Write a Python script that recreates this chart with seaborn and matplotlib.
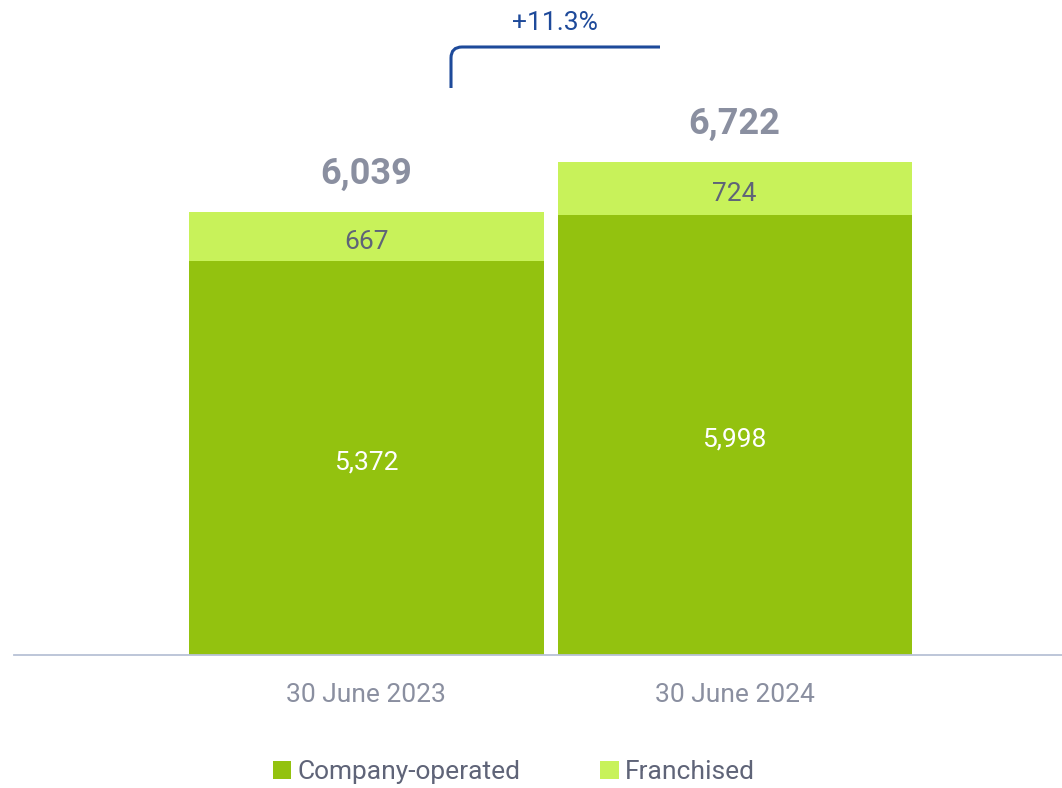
import matplotlib
matplotlib.use("Agg")
import matplotlib.pyplot as plt
import seaborn as sns
import pandas as pd
from matplotlib.patches import Patch, PathPatch
from matplotlib.path import Path
from matplotlib.transforms import Affine2D

categories = ["30 June 2023", "30 June 2024"]
company_operated = [5372, 5998]
franchised = [667, 724]
growth_label = "+11.3%"

DARK = "#93C20F"
LIGHT = "#C8F25A"
GRAY_TOTAL = "#8A8FA0"
GRAY_TEXT = "#5F6478"
BLUE = "#1E4A9A"

sns.set_theme(style="white")
plt.rcParams["font.family"] = ["Roboto", "DejaVu Sans"]

W, H = 1062, 788
fig = plt.figure(figsize=(W / 100, H / 100), dpi=100)
ax = fig.add_axes([14 / W, 1 - 655 / H, (W - 14) / W, 655 / H])

totals = [c + f for c, f in zip(company_operated, franchised)]
df = pd.DataFrame({"cat": categories, "company": company_operated,
                   "franchised": franchised, "total": totals})

sns.barplot(data=df, x="cat", y="total", color=LIGHT, width=0.962,
            saturation=1, ax=ax, linewidth=0)
sns.barplot(data=df, x="cat", y="company", color=DARK, width=0.962,
            saturation=1, ax=ax, linewidth=0)

ax.set_xlim(-0.9565, 1.8886)
ax.set_ylim(0, 8930)
ax.set_xlabel("")
ax.set_ylabel("")
ax.set_yticks([])
for s in ["top", "left", "right"]:
    ax.spines[s].set_visible(False)
ax.spines["bottom"].set_color("#B8C2D6")
ax.spines["bottom"].set_linewidth(1.3)
ax.tick_params(axis="x", length=0, pad=20, labelsize=19, labelcolor=GRAY_TOTAL)

for i, (c, f, t) in enumerate(zip(company_operated, franchised, totals)):
    ax.annotate(f"{c:,}", xy=(i, c / 2), xytext=(0, -3), textcoords="offset points",
                ha="center", va="center", color="white", fontsize=19)
    ax.annotate(f"{f:,}", xy=(i, c + f / 2), xytext=(0, -4), textcoords="offset points",
                ha="center", va="center", color=GRAY_TEXT, fontsize=19)
    ax.annotate(f"{t:,}", xy=(i, t), xytext=(0, 27.5), textcoords="offset points",
                ha="center", va="center", color=GRAY_TOTAL, fontsize=26, fontweight="bold")

# growth bracket (pixel coordinates, y measured from top)
px = Affine2D().scale(1 / W, -1 / H).translate(0, 1) + fig.transFigure
verts = [(451, 88), (451, 58), (451, 47), (462, 47), (660, 47)]
codes = [Path.MOVETO, Path.LINETO, Path.CURVE3, Path.CURVE3, Path.LINETO]
fig.patches.append(PathPatch(Path(verts, codes), transform=px, fill=False,
                             edgecolor=BLUE, linewidth=2.2, capstyle="butt"))
fig.text(555, 23, growth_label, transform=px, ha="center", va="center",
         color=BLUE, fontsize=19)

handles = [Patch(facecolor=DARK, edgecolor="none", label="Company-operated"),
           Patch(facecolor=LIGHT, edgecolor="none", label="Franchised")]
fig.legend(handles=handles, loc="center", bbox_to_anchor=(514 / W, 1 - 772 / H),
           ncol=2, frameon=False, fontsize=19, labelcolor=GRAY_TEXT,
           handlelength=0.7, handleheight=0.7, handletextpad=0.25,
           columnspacing=3.0)

fig.savefig("out.png", dpi=100)
